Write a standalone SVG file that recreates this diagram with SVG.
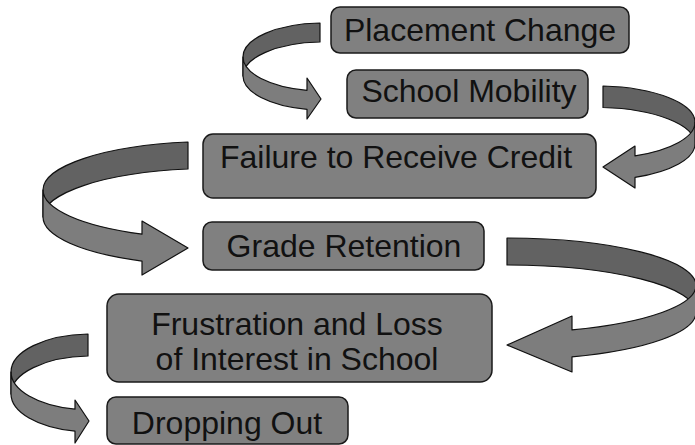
<svg xmlns="http://www.w3.org/2000/svg" width="695" height="445" viewBox="0 0 695 445">
  <style>
    .box { fill: #808080; stroke: #1a1a1a; stroke-width: 1.5; }
    .label { font-family: "Liberation Sans", Arial, sans-serif; font-size: 32px; fill: #111; text-anchor: middle; }
    .back { fill: #626262; stroke: #111; stroke-width: 1.2; stroke-linejoin: round; }
    .front { fill: #7d7d7d; stroke: #111; stroke-width: 1.2; stroke-linejoin: round; }
  </style>
  <rect width="695" height="445" fill="#ffffff"/>

  <!-- curved ribbon arrows: darker back band drawn first, lighter front band with head on top -->
  <g id="connectors">
    <g id="arrow-placement-school">
      <path class="back" d="M 320 23 A 80 34 0 0 0 243 57 L 243 76 A 80 34 0 0 1 320 42 Z"/>
      <path class="front" d="M 243 57 A 80 34 0 0 0 307 90.3 L 307 78 L 321 99 L 307 119 L 307 109.3 A 80 34 0 0 1 243 76 Z"/>
    </g>
    <g id="arrow-school-failure">
      <path class="back" d="M 603 86 A 99 36.5 0 0 1 695 122.4 L 695 143.9 A 99 36.5 0 0 0 603 107.5 Z"/>
      <path class="front" d="M 695 122.4 A 99 36.5 0 0 1 635 155.9 L 635 146 L 603 167 L 635 188 L 635 177.4 A 99 36.5 0 0 0 695 143.9 Z"/>
    </g>
    <g id="arrow-failure-grade">
      <path class="back" d="M 188 142 A 170 48.5 0 0 0 43 190 L 43 217 A 170 48.5 0 0 1 188 169 Z"/>
      <path class="front" d="M 43 190 A 170 48.5 0 0 0 142 234.1 L 142 221 L 188 248 L 142 275 L 142 261.1 A 170 48.5 0 0 1 43 217 Z"/>
    </g>
    <g id="arrow-grade-frustration">
      <path class="back" d="M 507 238 A 189 47.4 0 0 1 696 285.4 L 696 312.4 A 189 47.4 0 0 0 507 265 Z"/>
      <path class="front" d="M 696 285.4 A 189 47.4 0 0 1 572 329.9 L 572 316 L 507 345 L 572 372 L 572 356.9 A 189 47.4 0 0 0 696 312.4 Z"/>
    </g>
    <g id="arrow-frustration-dropout">
      <path class="back" d="M 88 334 A 80 38 0 0 0 11 372 L 11 394 A 80 38 0 0 1 88 356 Z"/>
      <path class="front" d="M 11 372 A 80 38 0 0 0 75 409.2 L 75 400 L 89 421 L 75 443 L 75 431.2 A 80 38 0 0 1 11 394 Z"/>
    </g>
  </g>

  <g id="placement-change">
    <rect class="box" x="331" y="7" width="298" height="46" rx="9"/>
    <text class="label" x="480" y="41">Placement Change</text>
  </g>
  <g id="school-mobility">
    <rect class="box" x="347" y="70" width="241" height="48" rx="9"/>
    <text class="label" x="469" y="102">School Mobility</text>
  </g>
  <g id="failure-credit">
    <rect class="box" x="203" y="134" width="393" height="64" rx="10"/>
    <text class="label" x="396" y="168">Failure to Receive Credit</text>
  </g>
  <g id="grade-retention">
    <rect class="box" x="203" y="222" width="281" height="48" rx="9"/>
    <text class="label" x="344" y="257">Grade Retention</text>
  </g>
  <g id="frustration">
    <rect class="box" x="107" y="294" width="385" height="88" rx="12"/>
    <text class="label" x="297" y="335">Frustration and Loss</text>
    <text class="label" x="297" y="370">of Interest in School</text>
  </g>
  <g id="dropping-out">
    <rect class="box" x="107" y="397" width="241" height="47" rx="9"/>
    <text class="label" x="227" y="434">Dropping Out</text>
  </g>
</svg>
